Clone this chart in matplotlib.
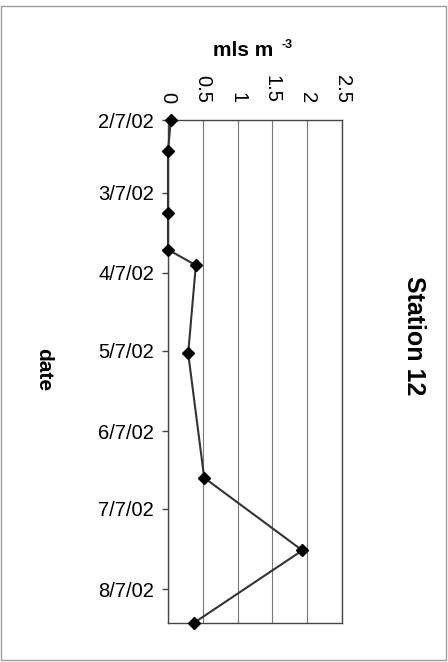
import datetime as dt
import matplotlib
matplotlib.use("Agg")
import matplotlib.pyplot as plt
import matplotlib.dates as mdates
from matplotlib.patches import Rectangle

plt.rcParams['font.family'] = ['Liberation Sans', 'DejaVu Sans']

# sample dates and concentrations (mls m-3)
sample_dates = [dt.date(2002, 2, 7), dt.date(2002, 2, 19), dt.date(2002, 3, 15),
                dt.date(2002, 3, 29), dt.date(2002, 4, 4), dt.date(2002, 5, 8),
                dt.date(2002, 6, 25), dt.date(2002, 7, 23), dt.date(2002, 8, 20)]
conc = [0.04, 0.0, 0.0, 0.0, 0.40, 0.29, 0.52, 1.93, 0.37]

value_ticks = [0, 0.5, 1, 1.5, 2, 2.5]
value_labels = ["0", "0.5", "1", "1.5", "2", "2.5"]
date_ticks = [dt.date(2002, m, 7) for m in range(2, 9)]

fig = plt.figure(figsize=(4.48, 6.62), dpi=100)
ax = fig.add_axes([168/448, 1 - 623/662, 174/448, 503/662])

ax.plot(conc, sample_dates, color="#333333", lw=1.5, marker="D",
        markersize=6.5, markerfacecolor="black", markeredgecolor="black",
        clip_on=False, zorder=3)

ax.set_xlim(0, 2.5)
ax.set_ylim(dt.date(2002, 8, 20), dt.date(2002, 2, 7))

ax.xaxis.tick_top()
ax.set_xticks(value_ticks)
ax.set_xticklabels(value_labels, rotation=-90, fontsize=14.5)
ax.tick_params(axis="x", length=0, pad=12)
ax.grid(axis="x", color="#777777", lw=0.8)

ax.set_yticks(date_ticks)
ax.yaxis.set_major_formatter(
    lambda v, pos: "{d.month}/{d.day}/{d:%y}".format(d=mdates.num2date(v)))
ax.tick_params(axis="y", length=4, width=1, color="#444444", labelsize=14.5, pad=6)

for s in ax.spines.values():
    s.set_color("#444444")
    s.set_linewidth(1.0)

# axis title with a small superscript
fig.text(213/448, 1 - 50/662, "mls m", fontsize=15, fontweight="bold",
         ha="left", va="center")
fig.text(281/448, 1 - 45/662, "-3", fontsize=9, fontweight="bold",
         ha="left", va="center")
fig.text(44/448, 1 - 370/662, "date", fontsize=15, fontweight="bold",
         rotation=-90, ha="center", va="center")
fig.text(414/448, 1 - 336/662, "Station 12", fontsize=18, fontweight="bold",
         rotation=-90, ha="center", va="center")

fig.patches.append(Rectangle((1/448, 2/662), 445/448, 654/662,
                             transform=fig.transFigure, fill=False,
                             edgecolor="#999999", lw=1))

fig.savefig("out.png", dpi=100)
